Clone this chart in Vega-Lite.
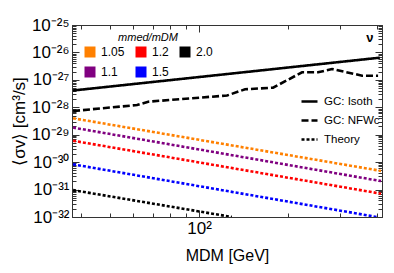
{
  "$schema": "https://vega.github.io/schema/vega-lite/v6.json",
  "width": 310,
  "height": 192,
  "autosize": "none",
  "padding": {"left": 72, "top": 25, "right": 12, "bottom": 56},
  "config": {
    "font": "Liberation Sans",
    "view": {"stroke": "#333", "strokeWidth": 1},
    "axis": {"grid": false, "domainColor": "#333", "tickColor": "#333", "labelColor": "#000", "titleColor": "#000", "labelFontSize": 17, "titleFontSize": 16, "titleFontWeight": "normal", "labelOverlap": false},
    "legend": {"padding": 0, "labelColor": "#000", "titleColor": "#000"}
  },
  "title": {"text": "ν", "anchor": "end", "orient": "top", "offset": -29, "dx": -9, "fontSize": 13, "fontWeight": "bold", "color": "#000"},
  "data": {
    "values": [
      {"style": "GC: Isoth", "M": 37.5, "sv": 4.09e-28},
      {"style": "GC: Isoth", "M": 127, "sv": 1.67e-27},
      {"style": "GC: Isoth", "M": 408, "sv": 6.43e-27},
      {"style": "GC: NFWc", "M": 37.5, "sv": 7.3e-29},
      {"style": "GC: NFWc", "M": 61.7, "sv": 1.21e-28},
      {"style": "GC: NFWc", "M": 67.3, "sv": 1.6e-28},
      {"style": "GC: NFWc", "M": 124.3, "sv": 2.69e-28},
      {"style": "GC: NFWc", "M": 143, "sv": 4.53e-28},
      {"style": "GC: NFWc", "M": 177.8, "sv": 5.18e-28},
      {"style": "GC: NFWc", "M": 222.8, "sv": 1.89e-27},
      {"style": "GC: NFWc", "M": 252.4, "sv": 1.89e-27},
      {"style": "GC: NFWc", "M": 281.3, "sv": 2.49e-27},
      {"style": "GC: NFWc", "M": 355.4, "sv": 1.42e-27},
      {"style": "GC: NFWc", "M": 402.5, "sv": 1.42e-27},
      {"style": "Theory", "ratio": "1.05", "M": 37.5, "sv": 3.98e-29},
      {"style": "Theory", "ratio": "1.05", "M": 412, "sv": 4.79e-31},
      {"style": "Theory", "ratio": "1.1", "M": 37.5, "sv": 1.82e-29},
      {"style": "Theory", "ratio": "1.1", "M": 412, "sv": 2.04e-31},
      {"style": "Theory", "ratio": "1.2", "M": 37.5, "sv": 6.03e-30},
      {"style": "Theory", "ratio": "1.2", "M": 412, "sv": 7.08e-32},
      {"style": "Theory", "ratio": "1.5", "M": 37.5, "sv": 8.32e-31},
      {"style": "Theory", "ratio": "1.5", "M": 399, "sv": 1.0e-32},
      {"style": "Theory", "ratio": "2.0", "M": 37.5, "sv": 9.55e-32},
      {"style": "Theory", "ratio": "2.0", "M": 129, "sv": 1.0e-32}
    ]
  },
  "layer": [
    {
      "transform": [{"filter": "!isValid(datum.ratio)"}],
      "mark": {"type": "line", "strokeWidth": 2.6, "color": "#000", "clip": true},
      "encoding": {
        "x": {"field": "M", "type": "quantitative", "scale": {"type": "log", "domain": [37.2, 415]},
          "axis": {"orient": "bottom", "title": "MDM [GeV]", "values": [40, 50, 60, 70, 80, 90, 100, 200, 300, 400],
            "labelExpr": "datum.value == 100 ? '10²' : ''", "labelFlush": false, "labelFontSize": 17,
            "tickSize": {"condition": {"test": "datum.value == 100", "value": -7}, "value": -4},
            "labelPadding": 10, "titlePadding": 8}},
        "y": {"field": "sv", "type": "quantitative", "scale": {"type": "log", "domain": [1e-32, 1e-25]},
          "axis": {"orient": "left", "title": "⟨σv⟩ [cm³/s]", "labelFontSize": 17, "titleFontSize": 17,
            "values": [1e-32,2e-32,3e-32,4e-32,5e-32,6e-32,7e-32,8e-32,9e-32,1e-31,2e-31,3e-31,4e-31,5e-31,6e-31,7e-31,8e-31,9e-31,1e-30,2e-30,3e-30,4e-30,5e-30,6e-30,7e-30,8e-30,9e-30,1e-29,2e-29,3e-29,4e-29,5e-29,6e-29,7e-29,8e-29,9e-29,1e-28,2e-28,3e-28,4e-28,5e-28,6e-28,7e-28,8e-28,9e-28,1e-27,2e-27,3e-27,4e-27,5e-27,6e-27,7e-27,8e-27,9e-27,1e-26,2e-26,3e-26,4e-26,5e-26,6e-26,7e-26,8e-26,9e-26,1e-25],
            "labelExpr": "abs(datum.value/pow(10, round(log(datum.value)/LN10)) - 1) < 0.001 ? '10' + replace(replace(replace(replace(replace(replace(replace(replace(replace(replace(replace(toString(round(log(datum.value)/LN10)),'-','⁻'),'0','⁰'),'1','¹'),'2','²'),'3','³'),'4','⁴'),'5','⁵'),'6','⁶'),'7','⁷'),'8','⁸'),'9','⁹') : ''",
            "tickSize": {"condition": {"test": "abs(datum.value/pow(10, round(log(datum.value)/LN10)) - 1) < 0.001", "value": -7}, "value": -4},
            "labelPadding": 10, "titlePadding": 3}},
        "strokeDash": {"field": "style", "type": "nominal",
          "scale": {"domain": ["GC: Isoth", "GC: NFWc", "Theory"], "range": [[1, 0], [7, 3], [3, 2]]},
          "legend": {"title": null, "orient": "none", "legendX": 228, "legendY": 67, "symbolType": "stroke", "symbolSize": 256, "symbolStrokeWidth": 2.6, "symbolStrokeColor": "#000", "labelFontSize": 11.5, "rowPadding": 4, "labelOffset": 5}}
      }
    },
    {
      "transform": [{"filter": "isValid(datum.ratio)"}],
      "mark": {"type": "line", "strokeWidth": 2.6, "clip": true},
      "encoding": {
        "x": {"field": "M", "type": "quantitative", "scale": {"type": "log", "domain": [37.2, 415]}, "axis": null},
        "y": {"field": "sv", "type": "quantitative", "scale": {"type": "log", "domain": [1e-32, 1e-25]}, "axis": null},
        "color": {"field": "ratio", "type": "nominal",
          "scale": {"domain": ["1.05", "1.2", "2.0", "1.1", "1.5"], "range": ["#ff8000", "#ff0000", "#000000", "#800080", "#0000ff"]},
          "legend": {"title": "mmed/mDM", "orient": "none", "direction": "horizontal", "legendX": 12, "legendY": 7, "columns": 3, "symbolType": "square", "symbolSize": 121, "symbolStrokeWidth": 0, "symbolDash": [], "labelFontSize": 12, "titleFontSize": 11, "titleFontStyle": "italic", "titleFontWeight": "normal", "titleAnchor": "middle", "columnPadding": 10, "rowPadding": 8, "labelOffset": 5, "titlePadding": 3,
            "encode": {"symbols": {"update": {"fill": {"scale": "color", "field": "value"}, "strokeWidth": {"value": 0}}}}}},
        "strokeDash": {"field": "style", "type": "nominal",
          "scale": {"domain": ["GC: Isoth", "GC: NFWc", "Theory"], "range": [[1, 0], [7, 3], [3, 2]]}}
      }
    },
    {
      "transform": [{"filter": "!isValid(datum.ratio)"}],
      "mark": {"type": "line", "opacity": 0, "clip": true},
      "encoding": {
        "x": {"field": "M", "type": "quantitative", "scale": {"type": "log", "domain": [37.2, 415]},
          "axis": {"orient": "top", "title": null, "labels": false, "values": [40, 50, 60, 70, 80, 90, 100, 200, 300, 400],
            "tickSize": {"condition": {"test": "datum.value == 100", "value": -7}, "value": -4}}},
        "y": {"field": "sv", "type": "quantitative", "scale": {"type": "log", "domain": [1e-32, 1e-25]},
          "axis": {"orient": "right", "title": null, "labels": false,
            "values": [1e-32,2e-32,3e-32,4e-32,5e-32,6e-32,7e-32,8e-32,9e-32,1e-31,2e-31,3e-31,4e-31,5e-31,6e-31,7e-31,8e-31,9e-31,1e-30,2e-30,3e-30,4e-30,5e-30,6e-30,7e-30,8e-30,9e-30,1e-29,2e-29,3e-29,4e-29,5e-29,6e-29,7e-29,8e-29,9e-29,1e-28,2e-28,3e-28,4e-28,5e-28,6e-28,7e-28,8e-28,9e-28,1e-27,2e-27,3e-27,4e-27,5e-27,6e-27,7e-27,8e-27,9e-27,1e-26,2e-26,3e-26,4e-26,5e-26,6e-26,7e-26,8e-26,9e-26,1e-25],
            "tickSize": {"condition": {"test": "abs(datum.value/pow(10, round(log(datum.value)/LN10)) - 1) < 0.001", "value": -7}, "value": -4}}}
      }
    }
  ],
  "resolve": {"axis": {"x": "independent", "y": "independent"}}
}
